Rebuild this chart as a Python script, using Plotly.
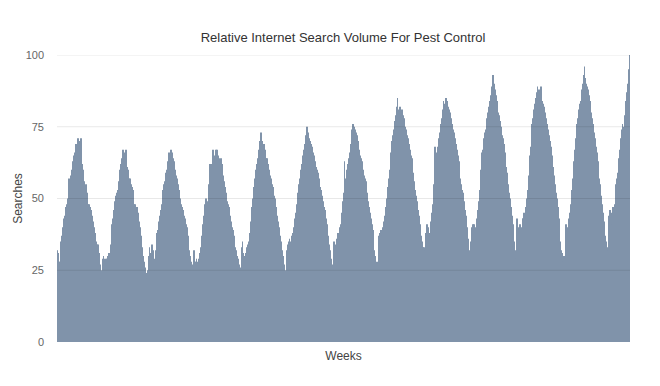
import plotly.graph_objects as go

# Weekly relative search volume, one list per year (52 weeks each, 2016 partial)
y2004 = [32, 31, 28, 28, 35, 37, 40, 43, 44, 47, 46, 48, 50, 57, 53, 58, 60, 63, 61, 65,
         66, 69, 67, 71, 70, 64, 68, 71, 62, 60, 56, 53, 55, 50, 52, 48, 48, 47, 46, 44,
         42, 40, 38, 36, 35, 34, 34, 31, 27, 22, 25, 29]
y2005 = [30, 29, 28, 29, 29, 30, 31, 31, 34, 38, 41, 43, 46, 49, 51, 52, 53, 56, 57, 60,
         62, 64, 67, 63, 66, 67, 62, 61, 60, 57, 57, 55, 54, 53, 50, 48, 48, 47, 47, 45,
         42, 40, 37, 35, 33, 30, 28, 26, 24, 22, 25, 30]
y2006 = [33, 30, 31, 34, 32, 29, 25, 32, 38, 39, 40, 42, 44, 46, 48, 53, 55, 56, 57, 59,
         60, 63, 66, 64, 67, 65, 66, 64, 63, 60, 58, 57, 55, 53, 50, 49, 48, 47, 46, 44,
         43, 41, 40, 37, 35, 32, 30, 28, 27, 26, 32, 28]
y2007 = [28, 29, 27, 28, 29, 31, 33, 37, 41, 44, 46, 48, 50, 49, 47, 55, 62, 62, 61, 64,
         67, 65, 63, 67, 67, 65, 64, 62, 61, 64, 62, 58, 56, 54, 52, 50, 49, 48, 47, 44,
         42, 40, 39, 37, 35, 33, 32, 30, 29, 27, 26, 24]
y2008 = [33, 35, 31, 30, 30, 31, 33, 34, 35, 38, 42, 45, 47, 50, 54, 57, 60, 62, 64, 65,
         67, 70, 73, 70, 68, 69, 67, 66, 64, 64, 62, 60, 58, 57, 55, 54, 53, 51, 50, 47,
         44, 42, 40, 37, 35, 34, 32, 30, 27, 25, 24, 32]
y2009 = [34, 35, 36, 34, 35, 37, 38, 40, 43, 45, 48, 50, 52, 55, 57, 60, 62, 65, 67, 69,
         70, 72, 75, 73, 71, 70, 69, 68, 67, 66, 65, 63, 61, 60, 59, 57, 55, 54, 53, 51,
         49, 47, 46, 43, 41, 39, 37, 34, 32, 29, 27, 24]
y2010 = [35, 32, 34, 34, 36, 38, 38, 40, 41, 45, 49, 52, 63, 56, 57, 60, 62, 64, 66, 69,
         72, 74, 76, 75, 74, 73, 72, 70, 69, 67, 65, 64, 63, 60, 58, 57, 56, 54, 52, 49,
         47, 45, 43, 41, 39, 36, 32, 30, 28, 27, 28, 37]
y2011 = [38, 39, 37, 38, 40, 42, 44, 47, 50, 54, 57, 60, 62, 66, 70, 72, 74, 77, 79, 82,
         85, 81, 80, 82, 80, 81, 79, 78, 76, 75, 74, 72, 71, 69, 67, 65, 64, 62, 59, 56,
         53, 51, 49, 46, 44, 41, 39, 37, 35, 33, 33, 32]
y2012 = [38, 41, 40, 39, 38, 38, 42, 45, 48, 55, 68, 63, 64, 66, 68, 71, 73, 76, 78, 81,
         84, 83, 82, 85, 84, 82, 81, 80, 78, 77, 76, 74, 73, 71, 69, 67, 65, 63, 61, 57,
         55, 53, 52, 49, 46, 44, 41, 40, 36, 32, 28, 35]
y2013 = [40, 41, 41, 40, 39, 40, 43, 46, 49, 53, 60, 66, 67, 70, 71, 73, 74, 78, 80, 82,
         84, 86, 88, 89, 93, 90, 88, 86, 84, 82, 80, 79, 77, 75, 72, 71, 69, 66, 63, 61,
         59, 55, 52, 50, 47, 44, 41, 38, 35, 32, 29, 43]
y2014 = [40, 39, 41, 39, 40, 43, 43, 45, 44, 47, 50, 53, 58, 61, 65, 68, 76, 78, 81, 83,
         85, 87, 89, 86, 88, 84, 89, 84, 83, 82, 81, 80, 78, 76, 74, 72, 70, 68, 65, 63,
         61, 58, 55, 52, 50, 47, 43, 39, 35, 32, 31, 28]
y2015 = [30, 29, 41, 40, 39, 41, 43, 45, 48, 53, 57, 63, 67, 71, 74, 76, 78, 81, 83, 84,
         88, 90, 93, 96, 92, 90, 89, 88, 86, 84, 83, 80, 78, 76, 73, 71, 68, 66, 63, 60,
         57, 55, 51, 48, 45, 42, 37, 35, 34, 33, 32, 44]
y2016 = [46, 45, 41, 47, 46, 48, 53, 55, 57, 59, 64, 67, 71, 74, 76, 75, 74, 79, 84, 87,
         90, 95, 100]

years = [y2004, y2005, y2006, y2007, y2008, y2009, y2010, y2011, y2012, y2013, y2014, y2015, y2016]
searches = [v for yr in years for v in yr]
weeks = list(range(len(searches)))
y_ticks = [0, 25, 50, 75, 100]

fig = go.Figure(go.Bar(
    x=weeks, y=searches,
    marker=dict(color="#6a819c", line=dict(width=0)),
    opacity=0.85,
))

# gridlines drawn over the translucent bars, as in the reference
for t in y_ticks[1:]:
    fig.add_shape(type="line", xref="paper", x0=0, x1=1, yref="y", y0=t, y1=t,
                  line=dict(color="rgba(0,0,0,0.09)", width=1), layer="above")

font_family = "Liberation Sans, Arial, sans-serif"
fig.update_layout(
    width=660, height=386,
    margin=dict(l=49, r=38, t=47, b=52),
    paper_bgcolor="white", plot_bgcolor="white",
    bargap=0.12,
    showlegend=False,
    font=dict(family=font_family, color="#666", size=11),
    title=dict(text="Relative Internet Search Volume For Pest Control",
               x=(343 - 8) / 660, xanchor="center", y=1 - 29 / 386, yanchor="middle",
               font=dict(size=13, color="#333", family=font_family)),
    xaxis=dict(range=[-0.5, len(searches) - 0.5], showticklabels=False, showgrid=False,
               zeroline=False, showline=False, ticks="", automargin=False,
               title=dict(text="Weeks", standoff=9, font=dict(size=12, color="#444"))),
    yaxis=dict(range=[0, 100], tickvals=y_ticks, showgrid=False,
               zeroline=False, showline=False, ticks="", automargin=False,
               ticklabelstandoff=12, tickfont=dict(size=11, color="#666"),
               title=dict(text="Searches", standoff=0, font=dict(size=12, color="#444"))),
)

fig.write_html("out.html")
